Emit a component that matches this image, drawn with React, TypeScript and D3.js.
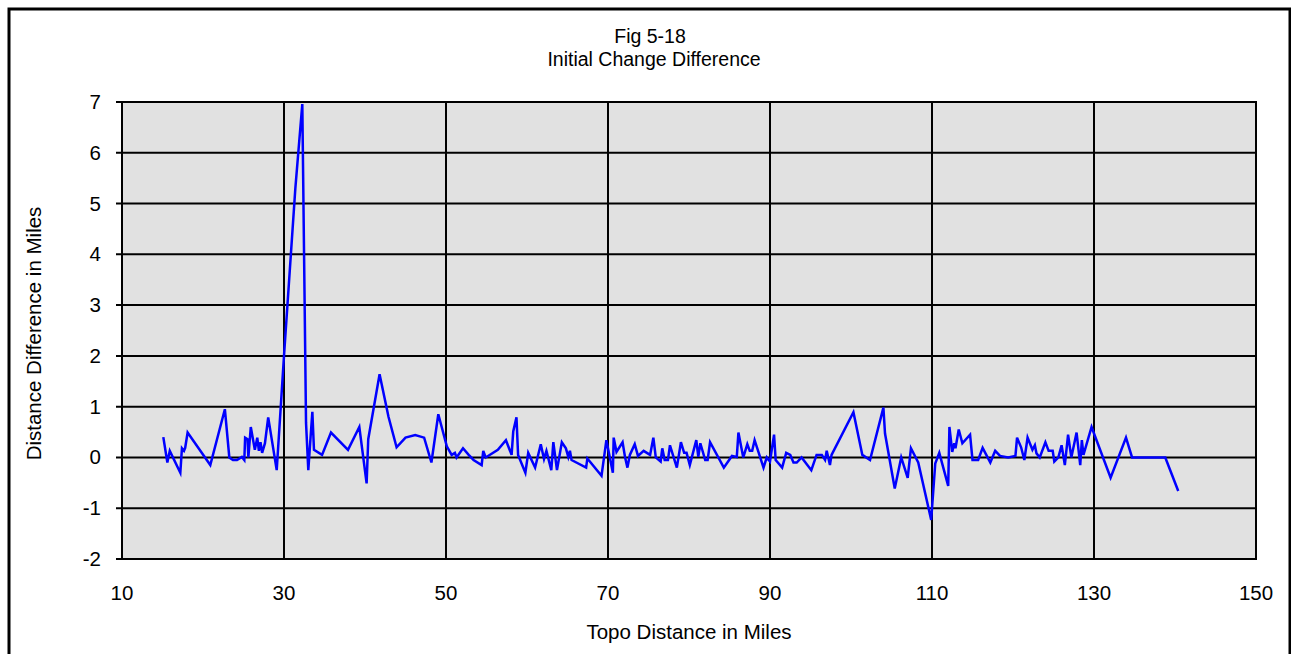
import React from "react";
import * as d3 from "d3";

const xTicks = [10, 30, 50, 70, 90, 110, 130, 150];
const yTicks = [-2, -1, 0, 1, 2, 3, 4, 5, 6, 7];

const topoX = [
  15.1, 15.6, 15.9, 17.2, 17.4, 17.65, 17.8, 18.1, 20.9, 22.7, 23.25, 23.7, 24.2, 24.8, 25.1, 25.2, 25.5, 25.6, 25.9, 26.4,
  26.7, 26.9, 27.1, 27.3, 27.65, 28.05, 29.1, 30.0, 31.4, 32.26, 32.72, 33.0, 33.5, 33.7, 34.7, 35.8, 37.9, 39.3, 40.2, 40.4,
  41.8, 42.9, 43.9, 45.0, 46.2, 47.3, 48.2, 49.05, 50.1, 50.7, 51.1, 51.3, 52.1, 52.8, 53.4, 54.4, 54.6, 54.9, 56.4, 57.4,
  58.1, 58.3, 58.7, 58.9, 59.8, 60.15, 61.0, 61.7, 62.1, 62.4, 63.0, 63.25, 63.7, 64.3, 64.8, 65.1, 65.3, 65.5, 67.3, 67.45,
  69.2, 69.8, 70.6, 70.7, 71.05, 71.8, 72.1, 72.4, 72.7, 73.3, 73.7, 74.4, 75.2, 75.6, 75.9, 76.5, 76.7, 77.0, 77.4, 77.65,
  78.5, 79.0, 79.4, 79.7, 80.1, 80.9, 81.15, 81.4, 82.0, 82.3, 82.6, 84.3, 85.3, 85.9, 86.1, 86.7, 87.2, 87.5, 87.8, 88.1,
  89.2, 89.6, 90.0, 90.5, 90.7, 91.5, 92.0, 92.5, 92.9, 93.3, 93.9, 95.1, 95.75, 96.4, 96.8, 97.0, 97.4, 97.6, 100.3, 101.4,
  102.35, 104.0, 104.2, 105.4, 106.2, 107.0, 107.4, 108.3, 109.9, 110.4, 110.9, 112.0, 112.15, 112.5, 112.75, 112.9, 113.3, 113.75, 114.7, 115.0,
  115.7, 116.25, 117.2, 117.8, 118.4, 119.4, 120.3, 120.5, 121.0, 121.4, 121.8, 122.4, 122.7, 122.9, 123.3, 124.0, 124.4, 124.9, 125.1, 125.6,
  126.0, 126.4, 126.8, 127.2, 127.85, 128.3, 128.5, 128.7, 129.7, 132.05, 133.95, 134.7, 138.8, 140.4,
];

const diffY = [
  0.4, -0.1, 0.13, -0.3, 0.18, 0.13, 0.19, 0.49, -0.15, 0.95, 0.0, -0.05, -0.05, 0.01, -0.05, 0.39, 0.36, 0.0, 0.6, 0.15,
  0.39, 0.13, 0.3, 0.09, 0.28, 0.79, -0.25, 2.0, 5.3, 6.96, 0.68, -0.25, 0.9, 0.15, 0.05, 0.49, 0.15, 0.6, -0.51, 0.36,
  1.64, 0.8, 0.2, 0.39, 0.44, 0.39, -0.1, 0.85, 0.22, 0.05, 0.09, 0.0, 0.18, 0.05, -0.05, -0.15, 0.13, 0.0, 0.15, 0.34,
  0.05, 0.51, 0.79, 0.05, -0.3, 0.09, -0.2, 0.26, -0.03, 0.13, -0.25, 0.3, -0.25, 0.3, 0.18, 0.01, 0.13, -0.05, -0.2, -0.02,
  -0.36, 0.34, -0.3, 0.39, 0.11, 0.3, 0.01, -0.2, 0.05, 0.26, 0.03, 0.13, 0.05, 0.39, 0.0, -0.08, 0.18, -0.05, -0.05, 0.24,
  -0.2, 0.3, 0.09, 0.09, -0.15, 0.34, 0.01, 0.28, -0.05, -0.05, 0.3, -0.2, 0.03, 0.01, 0.49, 0.0, 0.26, 0.13, 0.13, 0.34,
  -0.2, 0.0, -0.08, 0.45, -0.05, -0.2, 0.09, 0.05, -0.1, -0.1, 0.0, -0.25, 0.05, 0.05, -0.05, 0.13, -0.15, 0.05, 0.89, 0.05,
  -0.05, 0.98, 0.47, -0.61, 0.0, -0.4, 0.18, -0.1, -1.23, -0.12, 0.09, -0.56, 0.6, 0.11, 0.28, 0.18, 0.55, 0.28, 0.45, -0.05,
  -0.05, 0.19, -0.1, 0.13, 0.03, 0.0, 0.03, 0.39, 0.2, -0.05, 0.39, 0.15, 0.24, 0.08, 0.0, 0.3, 0.13, 0.13, -0.08, 0.0,
  0.24, -0.15, 0.45, 0.0, 0.49, -0.15, 0.34, 0.05, 0.6, -0.4, 0.39, 0.0, 0.0, -0.66,
];

const W = 1291;
const H = 654;
const plot = { left: 122, right: 1256, top: 102, bottom: 559 };
const FONT = "'Liberation Sans', Arial, sans-serif";
const FS = 20.5;
const TFS = 19.5;

export default function App() {
  const x = d3.scaleLinear().domain([10, 150]).range([plot.left, plot.right]);
  const y = d3.scaleLinear().domain([-2, 7]).range([plot.bottom, plot.top]);
  const pts: [number, number][] = topoX.map((v, i) => [v, diffY[i]]);
  const line = d3
    .line<[number, number]>()
    .x((d) => x(d[0]))
    .y((d) => y(d[1]));

  return (
    <svg
      width={W}
      height={H}
      style={{ position: "absolute", left: 0, top: 0, background: "#fff" }}
      fontFamily={FONT}
    >
      <rect x={9} y={9} width={1281} height={700} fill="#fff" stroke="#000" strokeWidth={3} />
      <line x1={1290.5} y1={8} x2={1290.5} y2={H} stroke="#000" strokeWidth={1} />
      <text x={650} y={43} textAnchor="middle" fontSize={TFS}>Fig 5-18</text>
      <text x={654} y={66} textAnchor="middle" fontSize={TFS}>Initial Change Difference</text>

      <rect
        x={plot.left}
        y={plot.top}
        width={plot.right - plot.left}
        height={plot.bottom - plot.top}
        fill="#e1e1e1"
      />
      {yTicks.map((t) => (
        <g key={"y" + t}>
          <line x1={plot.left - 6} x2={plot.right} y1={y(t)} y2={y(t)} stroke="#000" strokeWidth={2} />
          <text x={101} y={y(t) + 7} textAnchor="end" fontSize={FS}>
            {t}
          </text>
        </g>
      ))}
      {xTicks.map((t) => (
        <g key={"x" + t}>
          <line x1={x(t)} x2={x(t)} y1={plot.top} y2={plot.bottom} stroke="#000" strokeWidth={2} />
          <text x={x(t)} y={600} textAnchor="middle" fontSize={FS}>
            {t}
          </text>
        </g>
      ))}
      <rect
        x={plot.left}
        y={plot.top}
        width={plot.right - plot.left}
        height={plot.bottom - plot.top}
        fill="none"
        stroke="#000"
        strokeWidth={2}
      />
      <path d={line(pts) || ""} fill="none" stroke="#0000ff" strokeWidth={2.5} strokeLinejoin="miter" />

      <text x={689} y={639} textAnchor="middle" fontSize={FS}>Topo Distance in Miles</text>
      <text
        transform={`translate(41, ${(plot.top + plot.bottom) / 2 + 3}) rotate(-90)`}
        textAnchor="middle"
        fontSize={FS}
      >
        Distance Difference in Miles
      </text>
    </svg>
  );
}
